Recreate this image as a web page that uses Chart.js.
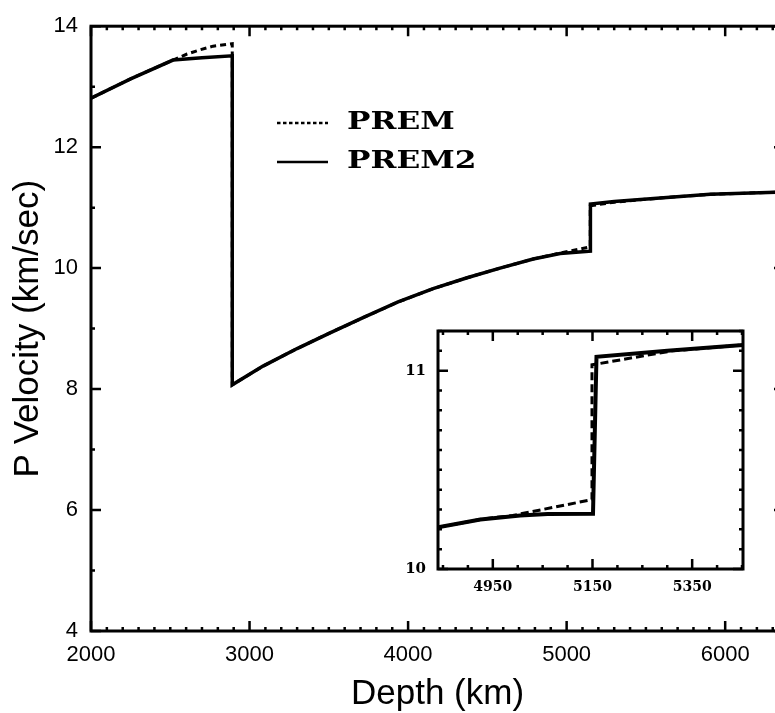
<!DOCTYPE html>
<html>
<head>
<meta charset="utf-8">
<script src="https://cdn.jsdelivr.net/npm/chart.js@4.4.1/dist/chart.umd.min.js"></script>
<style>
  html, body { margin: 0; padding: 0; background: #fff; }
  #caja { position: relative; width: 775px; height: 713px; overflow: hidden; }
  #principal { position: absolute; left: 0; top: 0; }
  #recuadro { position: absolute; left: 390px; top: 310px; }
</style>
</head>
<body>
<div id="caja">
  <canvas id="principal" width="800" height="713"></canvas>
  <canvas id="recuadro" width="365" height="300"></canvas>
</div>
<script>
//datos (profundidad en km, velocidad P en km/s)
const profPrem2 = [2000, 2250, 2517, 2700, 2891, 2891, 3085, 3300, 3508, 3716, 3937, 4158, 4372, 4580, 4789, 4959, 5100, 5150, 5150, 5300, 5590, 5905, 6371];
const velPrem2 = [12.81, 13.13, 13.44, 13.48, 13.51, 8.07, 8.38, 8.67, 8.93, 9.18, 9.44, 9.66, 9.84, 10.0, 10.15, 10.24, 10.27, 10.28, 11.06, 11.1, 11.16, 11.22, 11.26];

const profPrem = [2000, 2250, 2517, 2606, 2688, 2770, 2891, 2891, 3085, 3300, 3508, 3716, 3937, 4158, 4372, 4580, 4789, 4959, 5149, 5149, 5300, 5590, 5905, 6371];
const velPrem = [12.81, 13.13, 13.44, 13.54, 13.61, 13.67, 13.71, 8.07, 8.38, 8.67, 8.93, 9.18, 9.44, 9.66, 9.84, 10.0, 10.15, 10.25, 10.35, 11.03, 11.09, 11.16, 11.22, 11.26];

//recuadro (zoom en el limite del nucleo interno)
const profRecPrem2 = [4840, 4925, 5005, 5060, 5151, 5158, 5300, 5452];
const velRecPrem2 = [10.21, 10.25, 10.27, 10.277, 10.278, 11.07, 11.1, 11.13];
const profRecPrem = [4840, 4925, 4990, 5070, 5149, 5149, 5162, 5230, 5310, 5452];
const velRecPrem = [10.21, 10.25, 10.27, 10.31, 10.35, 11.03, 11.035, 11.065, 11.1, 11.13];

const ticksX = [2000, 3000, 4000, 5000, 6000];
const ticksY = [4, 6, 8, 10, 12, 14];
const ticksRecX = [4950, 5150, 5350];
const ticksRecY = [10, 11];

const puntos = (xs, ys) => xs.map((x, i) => ({ x: x, y: ys[i] }));

//marco y ticks hacia adentro en los cuatro lados
const marcoConTicks = {
  id: "marcoConTicks",
  afterDraw(chart, args, op) {
    const { ctx, chartArea: a } = chart;
    const ex = chart.scales.x;
    const ye = chart.scales.y;
    const mayX = ex.ticks.map((t) => t.value);
    const mayY = ye.ticks.map((t) => t.value);
    const esMayor = (v, lista, paso) => lista.some((m) => Math.abs(m - v) < paso / 10);
    ctx.save();
    ctx.strokeStyle = "#000";
    ctx.lineWidth = op.grosorTick;
    for (let i = Math.ceil(ex.min / op.pasoX - 1e-9); i * op.pasoX <= ex.max + 1e-9; i++) {
      const v = i * op.pasoX;
      const px = ex.getPixelForValue(v);
      const l = esMayor(v, mayX, op.pasoX) ? op.largo : op.corto;
      ctx.beginPath();
      ctx.moveTo(px, a.bottom);
      ctx.lineTo(px, a.bottom - l);
      ctx.moveTo(px, a.top);
      ctx.lineTo(px, a.top + l);
      ctx.stroke();
    }
    for (let i = Math.ceil(ye.min / op.pasoY - 1e-9); i * op.pasoY <= ye.max + 1e-9; i++) {
      const v = i * op.pasoY;
      const py = ye.getPixelForValue(v);
      const l = esMayor(v, mayY, op.pasoY) ? op.largo : op.corto;
      ctx.beginPath();
      ctx.moveTo(a.left, py);
      ctx.lineTo(a.left + l, py);
      ctx.moveTo(a.right, py);
      ctx.lineTo(a.right - l, py);
      ctx.stroke();
    }
    ctx.lineWidth = op.grosorMarco;
    ctx.strokeRect(a.left, a.top, a.right - a.left, a.bottom - a.top);
    ctx.restore();
  },
};

//leyenda dibujada dentro del area
const leyendaPropia = {
  id: "leyendaPropia",
  afterDraw(chart, args, op) {
    if (!op.mostrar) return;
    const { ctx } = chart;
    ctx.save();
    ctx.strokeStyle = "#000";
    ctx.fillStyle = "#000";
    chart.data.datasets.forEach((ds, i) => {
      const y = op.y + i * op.salto;
      ctx.beginPath();
      ctx.setLineDash(ds.borderDash && ds.borderDash.length ? op.guion : []);
      ctx.lineWidth = op.grosor;
      ctx.moveTo(op.x, y);
      ctx.lineTo(op.x + op.largo, y);
      ctx.stroke();
      ctx.setLineDash([]);
      ctx.save();
      ctx.translate(op.x + op.largo + op.espacio, y);
      ctx.scale(op.estirar, 1);
      ctx.font = op.fuente;
      ctx.textBaseline = "middle";
      ctx.fillText(ds.label, 0, 0);
      ctx.restore();
    });
    ctx.restore();
  },
};

const fondoBlanco = {
  id: "fondoBlanco",
  beforeDraw(chart) {
    const { ctx } = chart;
    ctx.save();
    ctx.fillStyle = "#fff";
    ctx.fillRect(0, 0, chart.width, chart.height);
    ctx.restore();
  },
};

const fijarTicks = (lista) => (escala) => {
  escala.ticks = lista.map((v) => ({ value: v }));
};
const sinComa = (v) => String(v);

const sans = "'Liberation Sans', Arial, sans-serif";
const serif = "'DejaVu Serif', serif";

new Chart(document.getElementById("principal"), {
  type: "scatter",
  data: {
    datasets: [
      {
        label: "PREM",
        data: puntos(profPrem, velPrem),
        showLine: true,
        borderColor: "#000",
        borderWidth: 3,
        borderDash: [6, 4],
        pointRadius: 0,
        order: 2,
      },
      {
        label: "PREM2",
        data: puntos(profPrem2, velPrem2),
        showLine: true,
        borderColor: "#000",
        borderWidth: 3.5,
        pointRadius: 0,
        order: 1,
      },
    ],
  },
  options: {
    responsive: false,
    animation: false,
    devicePixelRatio: 1,
    layout: { padding: { left: 0, top: 25, right: 16, bottom: 0 } },
    scales: {
      x: {
        type: "linear",
        min: 2000,
        max: 6371,
        afterBuildTicks: fijarTicks(ticksX),
        afterFit: (s) => { s.height = 82; },
        grid: { display: false, drawTicks: false },
        border: { display: false },
        ticks: { color: "#000", padding: 11, font: { family: sans, size: 22 }, maxRotation: 0, callback: sinComa },
        title: {
          display: true,
          text: "Depth (km)",
          color: "#000",
          font: { family: sans, size: 35, lineHeight: 1 },
          padding: { top: 0, bottom: 1 },
        },
      },
      y: {
        type: "linear",
        min: 4,
        max: 14,
        afterBuildTicks: fijarTicks(ticksY),
        afterFit: (s) => { s.width = 91; },
        grid: { display: false, drawTicks: false },
        border: { display: false },
        ticks: { color: "#000", padding: 13, font: { family: sans, size: 22 }, callback: sinComa },
        title: {
          display: true,
          text: "P Velocity (km/sec)",
          color: "#000",
          font: { family: sans, size: 35, lineHeight: 1 },
          padding: { top: 11, bottom: 0 },
        },
      },
    },
    plugins: {
      legend: { display: false },
      tooltip: { enabled: false },
      marcoConTicks: { pasoX: 100, pasoY: 1, largo: 10, corto: 4, grosorTick: 2.5, grosorMarco: 3 },
      leyendaPropia: {
        mostrar: true,
        x: 277,
        y: 123,
        salto: 39,
        largo: 51,
        espacio: 19,
        grosor: 2.5,
        guion: [3.5, 2.5],
        estirar: 1.3,
        fuente: "bold 24px " + serif,
      },
    },
  },
  plugins: [fondoBlanco, marcoConTicks, leyendaPropia],
});

new Chart(document.getElementById("recuadro"), {
  type: "scatter",
  data: {
    datasets: [
      {
        label: "PREM",
        data: puntos(profRecPrem, velRecPrem),
        showLine: true,
        borderColor: "#000",
        borderWidth: 3,
        borderDash: [8, 4],
        pointRadius: 0,
        order: 2,
      },
      {
        label: "PREM2",
        data: puntos(profRecPrem2, velRecPrem2),
        showLine: true,
        borderColor: "#000",
        borderWidth: 4,
        pointRadius: 0,
        order: 1,
      },
    ],
  },
  options: {
    responsive: false,
    animation: false,
    devicePixelRatio: 1,
    layout: { padding: { left: 0, top: 15, right: 12, bottom: 0 } },
    scales: {
      x: {
        type: "linear",
        min: 4840,
        max: 5452,
        afterBuildTicks: fijarTicks(ticksRecX),
        afterFit: (s) => { s.height = 41; },
        grid: { display: false, drawTicks: false },
        border: { display: false },
        ticks: { color: "#000", padding: 10, font: { family: serif, size: 14, weight: "bold" }, maxRotation: 0, callback: sinComa },
      },
      y: {
        type: "linear",
        min: 10,
        max: 11.2,
        afterBuildTicks: fijarTicks(ticksRecY),
        afterFit: (s) => { s.width = 48; },
        grid: { display: false, drawTicks: false },
        border: { display: false },
        ticks: { color: "#000", padding: 12, font: { family: serif, size: 15, weight: "bold" }, callback: sinComa },
      },
    },
    plugins: {
      legend: { display: false },
      tooltip: { enabled: false },
      marcoConTicks: { pasoX: 50, pasoY: 0.1, largo: 10, corto: 4, grosorTick: 2.5, grosorMarco: 3 },
      leyendaPropia: { mostrar: false },
    },
  },
  plugins: [fondoBlanco, marcoConTicks, leyendaPropia],
});
</script>
</body>
</html>
